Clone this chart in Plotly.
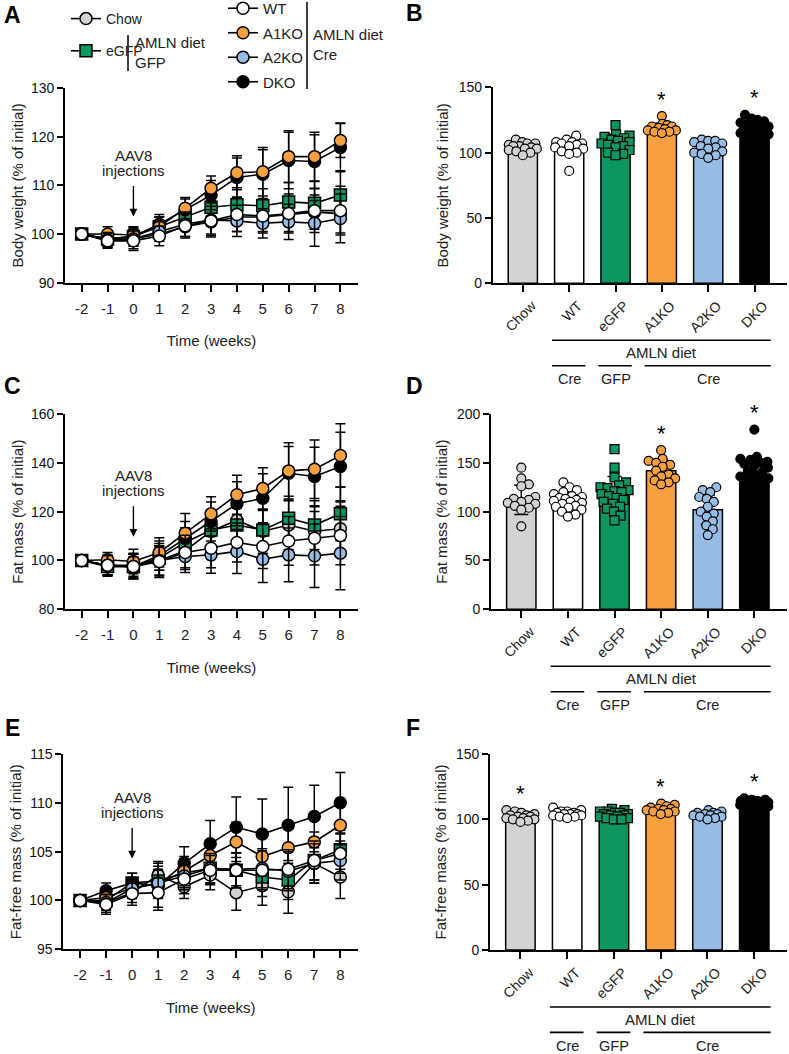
import plotly.graph_objects as go

W, H = 789, 1054
FONT = "Arial, Liberation Sans, Helvetica, sans-serif"

# ---------------- data ----------------
weeks = [-2, -1, 0, 1, 2, 3, 4, 5, 6, 7, 8]
week_labels = ["-2", "-1", "0", "1", "2", "3", "4", "5", "6", "7", "8"]
groups = ["Chow", "WT", "eGFP", "A1KO", "A2KO", "DKO"]

# Panel A: body weight time course (% of initial), mean and SD
bw_chow = [100, 98.8, 99.0, 100.0, 101.5, 102.5, 103.5, 103.5, 104.0, 104.5, 104.2]
bw_wt   = [100, 98.6, 98.6, 99.6, 101.7, 102.7, 104.0, 103.7, 104.2, 104.8, 104.8]
bw_egfp = [100, 99.0, 99.5, 101.5, 103.6, 105.5, 106.0, 105.8, 106.6, 106.3, 108.0]
bw_a1ko = [100, 100.0, 99.8, 101.5, 105.3, 109.4, 112.6, 112.8, 115.9, 115.9, 119.2]
bw_a2ko = [100, 98.8, 99.0, 100.5, 102.0, 102.9, 102.7, 102.2, 102.5, 102.2, 103.2]
bw_dko  = [100, 99.0, 99.5, 102.0, 105.0, 108.0, 111.6, 112.3, 115.1, 114.9, 117.8]
bw_chow_sd = [0, 1.5, 1.5, 1.5, 2.0, 2.5, 3.0, 3.0, 3.5, 3.5, 4.0]
bw_wt_sd   = [0, 1.5, 2.0, 2.0, 2.5, 3.0, 3.5, 3.5, 4.0, 4.5, 5.0]
bw_egfp_sd = [0, 1.5, 2.0, 2.0, 2.5, 3.0, 3.5, 3.5, 4.0, 4.5, 5.0]
bw_a1ko_sd = [0, 1.5, 1.5, 2.0, 2.2, 2.5, 3.5, 5.0, 5.3, 5.0, 3.5]
bw_a2ko_sd = [0, 1.5, 2.0, 2.0, 2.5, 3.5, 3.2, 3.0, 3.6, 4.7, 5.0]
bw_dko_sd  = [0, 1.5, 1.5, 2.0, 2.2, 3.0, 4.0, 5.0, 5.8, 5.5, 5.0]

# Panel C: fat mass time course
fm_chow = [100, 98.0, 98.0, 100.0, 104.0, 112.0, 116.5, 112.0, 114.5, 112.0, 113.0]
fm_wt   = [100, 98.0, 97.5, 99.6, 103.3, 105.0, 107.4, 105.7, 108.0, 109.1, 110.2]
fm_egfp = [100, 97.5, 97.5, 101.0, 107.4, 112.5, 114.5, 112.5, 117.3, 114.5, 119.1]
fm_a1ko = [100, 100.3, 99.6, 103.3, 111.2, 119.1, 126.9, 129.5, 136.7, 137.4, 143.0]
fm_a2ko = [100, 98.0, 97.5, 100.0, 101.6, 102.3, 103.7, 100.5, 102.3, 101.9, 103.0]
fm_dko  = [100, 98.0, 97.5, 102.0, 109.0, 116.0, 123.2, 125.5, 135.7, 134.4, 138.5]
fm_chow_sd = [0, 4, 5, 6, 7, 7, 8, 9, 10, 10, 11]
fm_wt_sd   = [0, 4, 5, 6, 7, 8, 8, 9, 10, 11, 12]
fm_egfp_sd = [0, 4, 5, 5, 6, 7, 7, 8, 9, 10, 11]
fm_a1ko_sd = [0, 3, 5, 6, 8, 7, 8, 8.5, 11.5, 12, 13]
fm_a2ko_sd = [0, 4, 4, 7, 6.5, 7.5, 9, 9.5, 11, 13, 15]
fm_dko_sd  = [0, 4, 5, 6, 7, 8, 9, 10, 11, 12, 14]

# Panel E: fat-free mass time course
ffm_chow = [100, 99.8, 100.8, 102.6, 101.4, 102.6, 100.8, 101.5, 100.9, 103.8, 102.4]
ffm_wt   = [100, 99.6, 100.7, 100.8, 102.2, 103.1, 103.1, 103.1, 103.2, 104.1, 104.8]
ffm_egfp = [100, 100.0, 101.8, 102.0, 102.8, 103.3, 103.1, 102.4, 102.1, 104.1, 105.2]
ffm_a1ko = [100, 100.3, 101.3, 101.7, 103.0, 104.6, 106.0, 104.5, 105.4, 106.0, 107.7]
ffm_a2ko = [100, 99.8, 101.2, 101.8, 102.5, 103.3, 103.2, 103.3, 103.0, 103.8, 104.1]
ffm_dko  = [100, 101.0, 101.8, 101.5, 103.8, 105.8, 107.5, 106.8, 107.7, 108.6, 110.0]
ffm_chow_sd = [0, 1.0, 1.0, 1.2, 1.2, 1.5, 1.8, 2.0, 2.2, 2.0, 2.2]
ffm_wt_sd   = [0, 1.0, 1.2, 1.5, 1.5, 1.5, 1.8, 2.0, 2.0, 2.0, 2.0]
ffm_egfp_sd = [0, 1.0, 1.0, 1.5, 1.5, 1.5, 1.8, 2.0, 2.0, 2.0, 2.0]
ffm_a1ko_sd = [0, 0.8, 1.0, 1.5, 1.5, 1.5, 2.0, 2.0, 2.0, 1.0, 2.0]
ffm_a2ko_sd = [0, 0.8, 1.0, 1.3, 1.4, 1.5, 1.7, 2.0, 2.0, 2.0, 2.0]
ffm_dko_sd  = [0, 0.8, 1.0, 2.5, 1.7, 2.4, 3.1, 3.6, 3.9, 3.2, 3.1]

# AAV8 injection arrow tip value (week 0) per time-course panel
aav8_tip = {"A": 103.6, "C": 109.7, "E": 104.3}

# Panel B: body weight at week 8 (bar mean, SD, individual animals)
b_mean = [104.5, 104.5, 108.0, 119.0, 103.0, 118.5]
b_sd   = [3.5, 6.0, 6.0, 3.5, 4.5, 6.0]
b_chow = [110, 108, 107, 107, 106, 105, 105, 104, 103, 103, 102, 101, 100, 98]
b_wt   = [113, 110, 108, 108, 107, 107, 106, 105, 104, 103, 101, 100, 99, 86]
b_egfp = [121, 114, 113, 112, 111, 110, 109, 108, 107, 106, 105, 104, 102, 100, 99, 98]
b_a1ko = [128, 122, 121, 120, 120, 119, 118, 117, 117, 116, 116, 115]
b_a2ko = [110, 109, 109, 108, 107, 105, 104, 103, 101, 100, 99, 98, 96]
b_dko  = [129, 126, 125, 124, 123, 122, 121, 120, 120, 119, 118, 117, 116, 115, 114, 113, 112, 111]
b_star = [False, False, False, True, False, True]

# Panel D: fat mass at week 8
d_mean = [112.0, 110.0, 121.0, 142.0, 102.0, 138.0]
d_sd   = [15.0, 10.0, 15.0, 11.0, 15.0, 17.0]
d_chow = [145, 134, 128, 126, 115, 113, 112, 110, 109, 108, 106, 104, 102, 85]
d_wt   = [130, 125, 122, 120, 118, 116, 115, 114, 113, 112, 111, 110, 109, 108, 106, 105, 104, 102, 100, 97, 95]
d_egfp = [164, 145, 135, 130, 127, 125, 124, 122, 121, 120, 118, 116, 114, 112, 110, 108, 105, 103, 100, 96, 91]
d_a1ko = [163, 154, 152, 150, 148, 146, 142, 138, 136, 134, 132, 130, 128]
d_a2ko = [125, 122, 120, 115, 113, 110, 105, 100, 98, 95, 90, 86, 82, 76]
d_dko  = [184, 156, 154, 153, 151, 150, 149, 147, 145, 142, 140, 138, 136, 134, 132, 131, 130]
d_star = [False, False, False, True, False, True]

# Panel F: fat-free mass at week 8
f_mean = [102.0, 104.5, 103.5, 107.5, 103.5, 112.0]
f_sd   = [2.5, 2.5, 2.5, 2.5, 2.2, 2.5]
f_chow = [107, 106, 105, 104, 103, 103, 102, 102, 101, 101, 100, 100, 99, 98]
f_wt   = [109, 107, 106, 106, 105, 105, 104, 104, 104, 103, 103, 102, 102, 101]
f_egfp = [108, 107, 106, 106, 105, 105, 104, 104, 103, 103, 102, 102, 101, 101, 100, 100]
f_a1ko = [112, 111, 110, 109, 108, 108, 107, 107, 106, 106, 105, 104]
f_a2ko = [107, 106, 105, 105, 104, 104, 103, 103, 102, 102, 101, 100]
f_dko  = [116, 115, 115, 114, 114, 114, 113, 113, 113, 112, 112, 112, 111, 111, 110, 110, 109, 109]
f_star = [True, False, False, True, False, True]

# group brackets under bar charts: (label, first index, last index)
bracket_top = [("AMLN diet", 1, 5)]
bracket_bottom = [("Cre", 1, 1), ("GFP", 2, 2), ("Cre", 3, 5)]

# ---------------- styles ----------------
colors = {"Chow": "#d3d3d3", "WT": "#ffffff", "eGFP": "#0e9660",
          "A1KO": "#f6a03f", "A2KO": "#97bde4", "DKO": "#000000"}
symbols = {"Chow": "circle", "WT": "circle", "eGFP": "square",
           "A1KO": "circle", "A2KO": "circle", "DKO": "circle"}


def py(px):
    return 1 - px / H


def pxx(px):
    return px / W


fig = go.Figure()

# axis geometry in pixels: (left, right, top, bottom)
geo = {
    "A": (65, 358, 88, 282.7),
    "B": (492.7, 787, 87.3, 283.3),
    "C": (65, 358, 414, 609.3),
    "D": (491, 787, 414, 609.3),
    "E": (63.3, 358, 754, 949.3),
    "F": (490, 787, 754, 950),
}
axis_ids = {"A": "", "B": "2", "C": "3", "D": "4", "E": "5", "F": "6"}

ts_panels = {
    "A": ({"Chow": (bw_chow, bw_chow_sd), "WT": (bw_wt, bw_wt_sd), "eGFP": (bw_egfp, bw_egfp_sd),
           "A1KO": (bw_a1ko, bw_a1ko_sd), "A2KO": (bw_a2ko, bw_a2ko_sd), "DKO": (bw_dko, bw_dko_sd)},
          [90, 130], 10, "Body weight (% of initial)"),
    "C": ({"Chow": (fm_chow, fm_chow_sd), "WT": (fm_wt, fm_wt_sd), "eGFP": (fm_egfp, fm_egfp_sd),
           "A1KO": (fm_a1ko, fm_a1ko_sd), "A2KO": (fm_a2ko, fm_a2ko_sd), "DKO": (fm_dko, fm_dko_sd)},
          [80, 160], 20, "Fat mass (% of initial)"),
    "E": ({"Chow": (ffm_chow, ffm_chow_sd), "WT": (ffm_wt, ffm_wt_sd), "eGFP": (ffm_egfp, ffm_egfp_sd),
           "A1KO": (ffm_a1ko, ffm_a1ko_sd), "A2KO": (ffm_a2ko, ffm_a2ko_sd), "DKO": (ffm_dko, ffm_dko_sd)},
          [95, 115], 5, "Fat-free mass (% of initial)"),
}

bar_panels = {
    "B": (b_mean, b_sd, [b_chow, b_wt, b_egfp, b_a1ko, b_a2ko, b_dko], b_star, [0, 150], 50,
          "Body weight (% of initial)"),
    "D": (d_mean, d_sd, [d_chow, d_wt, d_egfp, d_a1ko, d_a2ko, d_dko], d_star, [0, 200], 50,
          "Fat mass (% of initial)"),
    "F": (f_mean, f_sd, [f_chow, f_wt, f_egfp, f_a1ko, f_a2ko, f_dko], f_star, [0, 150], 50,
          "Fat-free mass (% of initial)"),
}

draw_order = ["Chow", "eGFP", "DKO", "A1KO", "A2KO", "WT"]
legend_of = {"Chow": ("legend", 1), "eGFP": ("legend", 2), "WT": ("legend2", 1),
             "A1KO": ("legend2", 2), "A2KO": ("legend2", 3), "DKO": ("legend2", 4)}

XR_TS = [-2.645, 8.68]
XR_BAR = [-0.65, 5.7]

axis_common = dict(showline=True, linecolor="black", linewidth=1.8, showgrid=False,
                   zeroline=False, ticks="outside", tickcolor="black", tickwidth=1.6,
                   ticklen=6, automargin=False,
                   tickfont=dict(family=FONT, size=14, color="#111"))

annotations = []
shapes = []


def note(**kw):
    kw.setdefault("xanchor", "center")
    kw.setdefault("yanchor", "middle")
    kw.setdefault("showarrow", False)
    annotations.append(kw)


# ---- time-course panels ----
for key, (series, yr, dt, ytitle) in ts_panels.items():
    ax = axis_ids[key]
    for g in draw_order:
        m, sd = series[g]
        lg, rank = legend_of[g]
        fig.add_trace(go.Scatter(
            x=weeks, y=m, mode="lines+markers", name=g,
            xaxis="x" + ax, yaxis="y" + ax,
            line=dict(color="black", width=1.6),
            marker=dict(symbol=symbols[g], size=12, color=colors[g],
                        line=dict(color="black", width=1.5)),
            error_y=dict(type="data", array=sd, visible=True, color="black",
                         thickness=1.5, width=5),
            legendgroup=g, showlegend=(key == "A"), legend=lg, legendrank=rank,
        ))
    l, r, t, b = geo[key]
    fig.update_layout(**{
        "xaxis" + ax: dict(axis_common, domain=[pxx(l), pxx(r)], range=XR_TS,
                           tickvals=weeks, ticktext=week_labels, anchor="y" + ax, ticklen=7,
                           ticklabelstandoff=4,
                           tickfont=dict(family=FONT, size=15, color="#222"),
                           title=dict(text="Time (weeks)", standoff=20,
                                      font=dict(family=FONT, size=15, color="#222"))),
        "yaxis" + ax: dict(axis_common, domain=[py(b), py(t)], range=yr, dtick=dt,
                           anchor="x" + ax,
                           title=dict(text=ytitle, standoff=4,
                                      font=dict(family=FONT, size=15, color="#222"))),
    })
    tip = aav8_tip[key]
    note(x=0, y=tip, xref="x" + ax, yref="y" + ax, text="",
         showarrow=True, ax=0, ay=-32, arrowhead=2, arrowsize=1.1,
         arrowwidth=1.4, arrowcolor="black")
    note(x=0, y=tip, xref="x" + ax, yref="y" + ax, text="AAV8", yshift=61,
         font=dict(family=FONT, size=15, color="#222"))
    note(x=0, y=tip, xref="x" + ax, yref="y" + ax, text="injections", yshift=46,
         font=dict(family=FONT, size=15, color="#222"))


# ---- bar panels ----
def swarm(vals, center, px_per_x, px_per_y, d, maxw):
    """Simple beeswarm layout: offsets (px) limited to +-maxw."""
    order = sorted(range(len(vals)), key=lambda i: vals[i])
    placed, xs = [], [0.0] * len(vals)
    steps = int(maxw / 0.5)
    for i in order:
        yy = vals[i] * px_per_y
        chosen, best_c, best_s = None, 0.0, -1.0
        for k in range(steps + 1):
            cands = [0.0] if k == 0 else [k * 0.5, -k * 0.5]
            for c in cands:
                s = min([((c - a) ** 2 + (yy - bb) ** 2) ** 0.5 for a, bb in placed] or [1e9])
                if s >= d:
                    chosen = c
                    break
                if s > best_s:
                    best_s, best_c = s, c
            if chosen is not None:
                break
        off = chosen if chosen is not None else best_c
        placed.append((off, yy))
        xs[i] = center + off / px_per_x
    return xs


for key, (mean, sd, pts, stars, yr, dt, ytitle) in bar_panels.items():
    ax = axis_ids[key]
    l, r, t, b = geo[key]
    fig.add_trace(go.Bar(
        x=list(range(len(groups))), y=mean, width=0.63,
        marker=dict(color=[colors[g] for g in groups], line=dict(color="black", width=1.5)),
        error_y=dict(type="data", array=sd, visible=True, color="black", thickness=1.5, width=7),
        xaxis="x" + ax, yaxis="y" + ax, showlegend=False,
    ))
    ppx = (r - l) / (XR_BAR[1] - XR_BAR[0])
    ppy = (b - t) / (yr[1] - yr[0])
    for i, g in enumerate(groups):
        xs = swarm(pts[i], i, ppx, ppy, 7.5, 14)
        fig.add_trace(go.Scatter(
            x=xs, y=pts[i], mode="markers", xaxis="x" + ax, yaxis="y" + ax, showlegend=False,
            marker=dict(symbol=symbols[g], size=9, color=colors[g],
                        line=dict(color="black", width=1.2)),
        ))
        if stars[i]:
            note(x=i, y=max(pts[i]), xref="x" + ax, yref="y" + ax, text="*", yshift=17,
                 font=dict(family=FONT, size=22, color="black"))
    fig.update_layout(**{
        "xaxis" + ax: dict(axis_common, domain=[pxx(l), pxx(r)], range=XR_BAR,
                           tickvals=list(range(len(groups))), ticktext=groups, tickangle=-45,
                           anchor="y" + ax, ticklen=7, ticklabelshift=9,
                           tickfont=dict(family=FONT, size=14, color="#222")),
        "yaxis" + ax: dict(axis_common, domain=[py(b), py(t)], range=yr, dtick=dt,
                           anchor="x" + ax,
                           title=dict(text=ytitle, standoff=6,
                                      font=dict(family=FONT, size=15, color="#222"))),
    })
    # brackets
    for label, i0, i1 in bracket_top:
        shapes.append(dict(type="line", xref="x" + ax, yref="paper", x0=i0 - 0.37, x1=i1 + 0.35,
                           y0=py(b + 57), y1=py(b + 57), line=dict(color="black", width=1.6)))
        note(x=(i0 + i1) / 2, y=py(b + 69), xref="x" + ax, yref="paper", text=label,
             font=dict(family=FONT, size=15, color="#222"))
    for label, i0, i1 in bracket_bottom:
        shapes.append(dict(type="line", xref="x" + ax, yref="paper", x0=i0 - 0.37, x1=i1 + 0.35,
                           y0=py(b + 82.4), y1=py(b + 82.4), line=dict(color="black", width=1.6)))
        note(x=(i0 + i1) / 2, y=py(b + 95.8), xref="x" + ax, yref="paper", text=label,
             font=dict(family=FONT, size=14.5, color="#222"))

# panel letters
for letter, (x, y) in {"A": (12, 15), "B": (414, 13), "C": (12, 386), "D": (414, 386),
                       "E": (12, 728), "F": (413, 728)}.items():
    note(x=pxx(x), y=py(y), xref="paper", yref="paper", text="<b>%s</b>" % letter,
         font=dict(family=FONT, size=23, color="black"))

# legend bracket lines and labels
shapes.append(dict(type="line", xref="paper", yref="paper", x0=pxx(128), x1=pxx(128),
                   y0=py(35), y1=py(71), line=dict(color="black", width=1.5)))
shapes.append(dict(type="line", xref="paper", yref="paper", x0=pxx(307), x1=pxx(307),
                   y0=py(2), y1=py(89), line=dict(color="black", width=1.5)))
note(x=pxx(133), y=py(52.5), xref="paper", yref="paper", xanchor="left",
     text="AMLN diet<br>GFP", align="left", font=dict(family=FONT, size=15, color="#222"))
note(x=pxx(311), y=py(44), xref="paper", yref="paper", xanchor="left",
     text="AMLN diet<br>Cre", align="left", font=dict(family=FONT, size=15, color="#222"))

fig.update_layout(
    width=W, height=H, margin=dict(l=0, r=0, t=0, b=0, autoexpand=False),
    paper_bgcolor="white", plot_bgcolor="white",
    font=dict(family=FONT, color="#222"),
    annotations=annotations, shapes=shapes,
    legend=dict(x=pxx(66), y=py(3), xanchor="left", yanchor="top", bgcolor="rgba(0,0,0,0)",
                font=dict(family=FONT, size=14, color="#222"), tracegroupgap=11,
                itemclick=False, itemdoubleclick=False),
    legend2=dict(x=pxx(223), y=py(-8), xanchor="left", yanchor="top", bgcolor="rgba(0,0,0,0)",
                 font=dict(family=FONT, size=15, color="#222"), tracegroupgap=2,
                 itemclick=False, itemdoubleclick=False),
    bargap=0.3,
)

fig.write_html("out.html")
